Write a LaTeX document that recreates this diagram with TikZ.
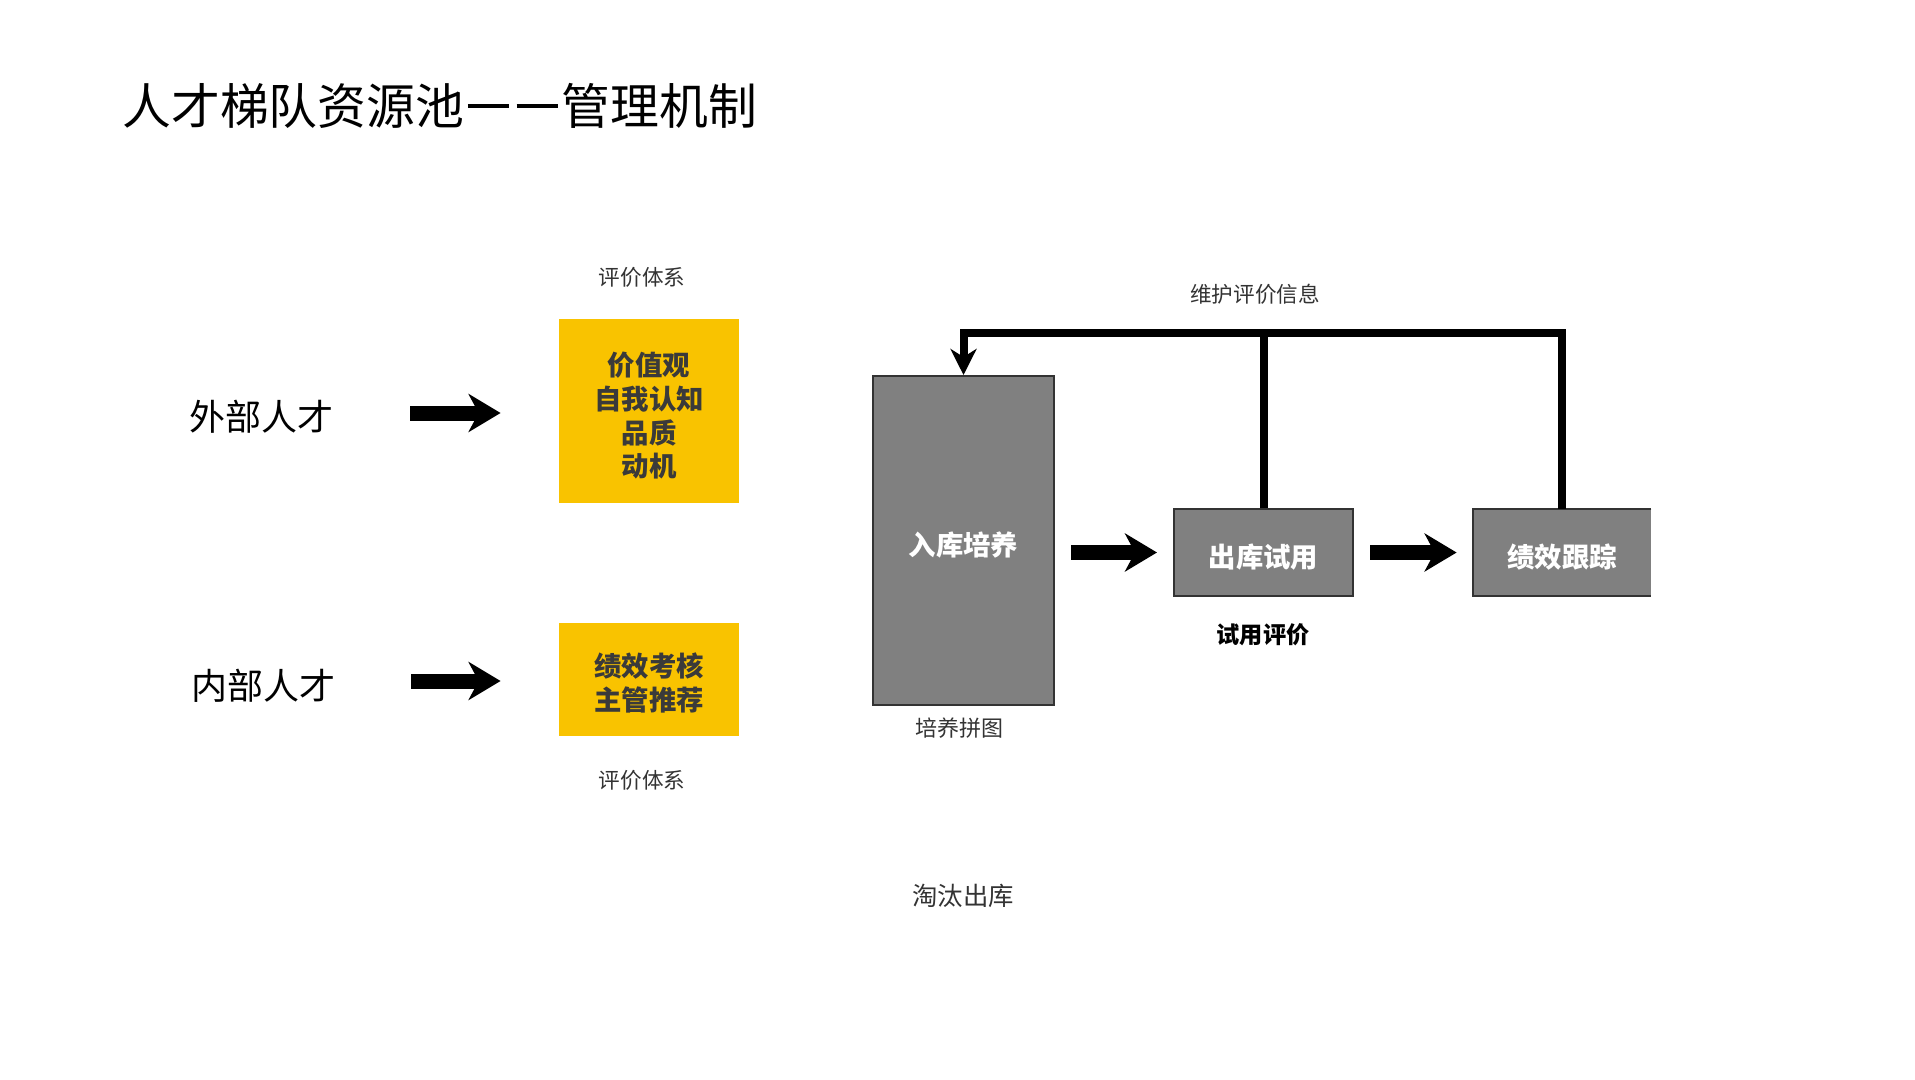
\documentclass[tikz,border=0pt]{standalone}
\usepackage{fontspec}
\setmainfont{Noto Sans CJK SC}
\usetikzlibrary{arrows.meta}
\definecolor{ybox}{HTML}{F9C300}
\definecolor{gbox}{HTML}{808080}
\definecolor{ytext}{HTML}{3A3A3A}
\definecolor{lbl}{HTML}{333333}
\newcommand\tdash{\makebox[1em]{\rule[0.33em]{0.84em}{0.09em}}}
\newcommand\dn{\rule{0pt}{16.5pt}}
\tikzset{
  ylw/.style={fill=ybox, draw=none, minimum width=90pt, align=center, text=ytext, inner sep=0pt,
    font=\fontsize{13.7pt}{16.9pt}\selectfont\bfseries},
  gry/.style={fill=gbox, draw=black!80, line width=1pt, align=center, text=white, inner sep=0pt,
    font=\fontsize{13.7pt}{17pt}\selectfont\bfseries},
  side/.style={inner sep=0pt, text=black, font=\fontsize{18pt}{20pt}\selectfont},
  small/.style={inner sep=0pt, text=lbl, font=\fontsize{10.8pt}{12pt}\selectfont},
  bigarrow/.style={line width=7.5pt, -{Stealth[length=16pt, width=19pt, inset=5pt]}},
  fbline/.style={line width=4pt, line join=miter, line cap=butt},
}
\begin{document}
\begin{tikzpicture}[x=0.5pt, y=-0.5pt]
\useasboundingbox (0,0) rectangle (1915,1080);
\fill[white] (0,0) rectangle (1915,1080);

% title
\node[anchor=west, inner sep=0pt, font=\fontsize{24.4pt}{26pt}\selectfont] (title) at (122,106) {人才梯队资源池\tdash\tdash 管理机制};

% left side
\node[side, anchor=center] (ext) at (261,416.5) {外部人才};
\node[side, anchor=center] (int) at (263,685.5) {内部人才};

\node[ylw, minimum height=92pt] (box1) at (649,411) {\dn 价值观\\自我认知\\品质\\动机};
\node[ylw, minimum height=56.5pt] (box2) at (649,679.5) {\rule{0pt}{15pt}绩效考核\\主管推荐};

\node[small] (eval1) at (642,277) {评价体系};
\node[small] (eval2) at (642,780) {评价体系};

\draw[bigarrow, shorten <=38.5pt, shorten >=29pt] (ext.east |- 0,413) -- (box1.west |- 0,413);
\draw[bigarrow, shorten <=38pt, shorten >=29pt] (int.east |- 0,681) -- (box2.west |- 0,681);

% right side
\node[gry, minimum width=90.5pt, minimum height=164.5pt] (big) at (963.5,540.5) {\dn 入库培养};
\node[gry, minimum width=89.5pt, minimum height=43.5pt] (chu) at (1263.5,552.5) {\dn 出库试用};
\node[fill=gbox, draw=none, minimum width=89pt, minimum height=43.5pt, text=white, inner sep=0pt,
  font=\fontsize{13.7pt}{17pt}\selectfont\bfseries] (jx) at (1562,552.5) {\dn 绩效跟踪};
\draw[black!80, line width=1pt] (jx.north east) -- (jx.north west) -- (jx.south west) -- (jx.south east);

\draw[bigarrow, shorten <=8pt, shorten >=8pt] (big.east |- chu.west) -- (chu.west);
\draw[bigarrow, shorten <=8pt, shorten >=8pt] (chu.east) -- (jx.west);

\coordinate (fbtop) at (963.5,333);
\draw[fbline, -{Stealth[length=13pt, width=13pt, inset=4pt]}] (jx.north) |- (fbtop) -- (big.north);
\draw[fbline] (chu.north) -- (chu.north |- fbtop);

\node[small] (maint) at (1255,294) {维护评价信息};
\node[inner sep=0pt, text=black, font=\fontsize{11.6pt}{13pt}\selectfont\bfseries] (tryeval) at (1263,635) {试用评价};
\node[small, font=\fontsize{11pt}{12pt}\selectfont] (pyt) at (959,728) {培养拼图};
\node[inner sep=0pt, text=lbl, font=\fontsize{12.7pt}{14pt}\selectfont] (tt) at (963,896) {淘汰出库};
\end{tikzpicture}
\end{document}
